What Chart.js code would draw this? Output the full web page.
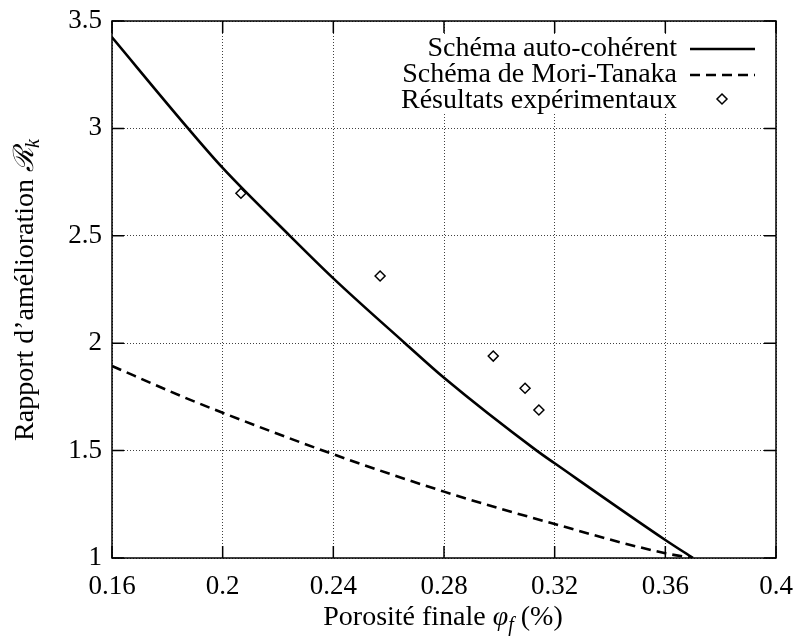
<!DOCTYPE html>
<html>
<head>
<meta charset="utf-8">
<script src="https://cdn.jsdelivr.net/npm/chart.js@4/dist/chart.umd.min.js"></script>
<style>
  body { margin: 0; background: #fff; }
  #wrap { width: 798px; height: 639px; }
</style>
</head>
<body>
<div id="wrap"><canvas id="graf"></canvas></div>
<script>
// Noms des courbes (légende)
const nomAuto = 'Schéma auto-cohérent';
const nomMori = 'Schéma de Mori-Tanaka';
const nomExp = 'Résultats expérimentaux';

// Schéma auto-cohérent
const xAuto = [0.16, 0.1875, 0.2, 0.2243, 0.24, 0.2659, 0.28, 0.3135, 0.32, 0.36, 0.37];
const yAuto = [3.424, 3.0, 2.816, 2.5, 2.302, 2.0, 1.839, 1.5, 1.441, 1.084, 1.0];

// Schéma de Mori-Tanaka
const xMori = [0.16, 0.1846, 0.2, 0.24, 0.28, 0.32, 0.36, 0.37];
const yMori = [1.894, 1.756, 1.676, 1.483, 1.309, 1.158, 1.022, 1.0];

// Résultats expérimentaux
const xExp = [0.2066, 0.2569, 0.2978, 0.3093, 0.3143];
const yExp = [2.698, 2.313, 1.94, 1.79, 1.689];

// Graduations
const xTicks = [0.16, 0.2, 0.24, 0.28, 0.32, 0.36, 0.4];
const yTicks = [1, 1.5, 2, 2.5, 3, 3.5];

const serif = "'Liberation Serif', 'DejaVu Serif', serif";

function pts(xs, ys) {
	return xs.map((x, i) => ({ x: x, y: ys[i] }));
}

// dessine un texte composé (indices, italique)
function texteRiche(ctx, parts, x, y) {
	let total = 0;
	parts.forEach(p => { ctx.font = p.font; total += ctx.measureText(p.t).width; });
	let cx = x - total / 2;
	parts.forEach(p => {
		ctx.font = p.font;
		ctx.fillText(p.t, cx, y + (p.dy || 0));
		cx += ctx.measureText(p.t).width;
	});
}

// cadre, petites graduations, légende et titres d'axes
const cadre = {
	id: 'cadre',
	afterDraw(chart) {
		const ctx = chart.ctx;
		const ds = chart.data.datasets;
		const a = chart.chartArea;
		const sx = chart.scales.x, sy = chart.scales.y;
		ctx.save();
		// fond blanc de la légende
		ctx.fillStyle = '#fff';
		ctx.fillRect(392, 35, 378, 78);

		// cadre et petites graduations
		const tl = 12;
		ctx.strokeStyle = '#000';
		ctx.lineWidth = 1.5;
		ctx.beginPath();
		xTicks.forEach(v => {
			const px = sx.getPixelForValue(v);
			ctx.moveTo(px, a.bottom); ctx.lineTo(px, a.bottom - tl);
			ctx.moveTo(px, a.top); ctx.lineTo(px, a.top + tl);
		});
		yTicks.forEach(v => {
			const py = sy.getPixelForValue(v);
			ctx.moveTo(a.left, py); ctx.lineTo(a.left + tl, py);
			ctx.moveTo(a.right, py); ctx.lineTo(a.right - tl, py);
		});
		ctx.stroke();
		ctx.strokeRect(a.left, a.top, a.right - a.left, a.bottom - a.top);

		// légende
		ctx.fillStyle = '#000';
		ctx.font = '28px ' + serif;
		ctx.textAlign = 'right';
		ctx.textBaseline = 'alphabetic';
		const bases = [56, 82, 108];
		ds.forEach((d, i) => {
			ctx.fillText(d.label, 677, bases[i]);
		});
		ctx.lineWidth = 2.5;
		ctx.beginPath(); ctx.moveTo(690, 49); ctx.lineTo(755, 49); ctx.stroke();
		ctx.setLineDash([10, 6]);
		ctx.beginPath(); ctx.moveTo(690, 75); ctx.lineTo(755, 75); ctx.stroke();
		ctx.setLineDash([]);
		ctx.lineWidth = 1.5;
		ctx.fillStyle = '#fff';
		ctx.beginPath();
		ctx.moveTo(722, 94); ctx.lineTo(727, 99); ctx.lineTo(722, 104); ctx.lineTo(717, 99); ctx.closePath();
		ctx.fill(); ctx.stroke();

		// titres des axes
		ctx.fillStyle = '#000';
		ctx.textAlign = 'left';
		const fn = '28px ' + serif, fi = 'italic 28px ' + serif, fs = 'italic 20px ' + serif;
		texteRiche(ctx, [
			{ t: 'Porosité finale ', font: fn },
			{ t: 'φ', font: fi },
			{ t: 'f', font: fs, dy: 6 },
			{ t: ' (%)', font: fn }
		], 443, 625);
		ctx.translate(33, 290);
		ctx.rotate(-Math.PI / 2);
		texteRiche(ctx, [
			{ t: 'Rapport d’amélioration ', font: fn },
			{ t: 'ℛ', font: fi },
			{ t: 'k', font: fs, dy: 6 }
		], 0, 0);
		ctx.restore();
	}
};

const ctx = document.getElementById('graf');

let graf = new Chart(ctx, {
	type: 'scatter',
	data: {
		datasets: [
			{
				label: nomAuto,
				data: pts(xAuto, yAuto),
				showLine: true,
				borderColor: '#000',
				borderWidth: 2.6,
				pointRadius: 0,
				cubicInterpolationMode: 'monotone'
			},
			{
				label: nomMori,
				data: pts(xMori, yMori),
				showLine: true,
				borderColor: '#000',
				borderWidth: 2.6,
				borderDash: [10, 6],
				pointRadius: 0,
				cubicInterpolationMode: 'monotone'
			},
			{
				label: nomExp,
				data: pts(xExp, yExp),
				showLine: false,
				pointStyle: 'rectRot',
				pointRadius: 5,
				borderColor: '#000',
				backgroundColor: '#fff',
				borderWidth: 1.5
			}
		]
	},
	options: {
		responsive: true,
		maintainAspectRatio: false,
		animation: false,
		layout: { padding: { top: 21, right: 22, left: 0, bottom: 0 } },
		plugins: { legend: { display: false }, tooltip: { enabled: false } },
		scales: {
			x: {
				type: 'linear',
				min: 0.16,
				max: 0.4,
				afterBuildTicks: s => { s.ticks = xTicks.map(v => ({ value: v })); },
				afterFit: s => { s.height = 81; s.paddingLeft = 0; s.paddingRight = 0; },
				ticks: {
					color: '#000',
					padding: 13,
					maxRotation: 0,
					font: { family: serif, size: 27 },
					callback: v => String(+v.toFixed(2))
				},
				grid: { color: 'rgba(0,0,0,0.75)', lineWidth: 1, drawTicks: false },
				border: { display: false, dash: [1, 2] }
			},
			y: {
				type: 'linear',
				min: 1,
				max: 3.5,
				afterBuildTicks: s => { s.ticks = yTicks.map(v => ({ value: v })); },
				afterFit: s => { s.width = 112; s.paddingTop = 0; s.paddingBottom = 0; },
				ticks: {
					color: '#000',
					padding: 10,
					font: { family: serif, size: 27 },
					callback: v => String(+v.toFixed(2))
				},
				grid: { color: 'rgba(0,0,0,0.75)', lineWidth: 1, drawTicks: false },
				border: { display: false, dash: [1, 2] }
			}
		}
	},
	plugins: [cadre]
});
</script>
</body>
</html>
